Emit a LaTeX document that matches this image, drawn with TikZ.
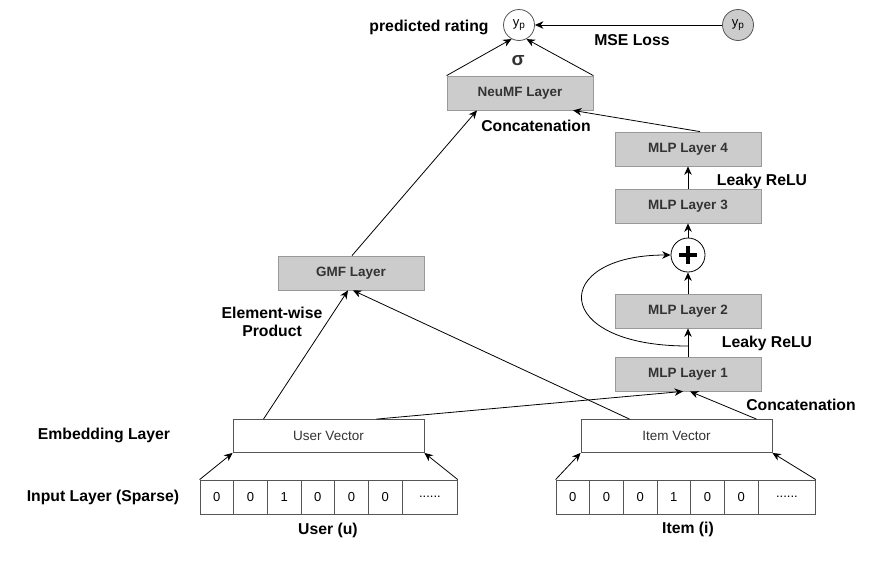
\documentclass[tikz,border=0pt]{standalone}
\usepackage{fontspec}
\setmainfont{Liberation Sans}
\usetikzlibrary{positioning,arrows.meta}
\definecolor{layerfill}{HTML}{CCCCCC}
\definecolor{layerdraw}{HTML}{999999}
\definecolor{layertext}{HTML}{333333}
\definecolor{vecdraw}{HTML}{555555}

\begin{document}
\begin{tikzpicture}[x=1pt,y=-1pt,line width=0.8pt,
  layer/.style={rectangle,fill=layerfill,draw=layerdraw,minimum width=146pt,minimum height=34pt,
    font=\fontsize{13.5}{15}\selectfont\bfseries,text=layertext},
  vec/.style={rectangle,fill=white,draw=vecdraw,minimum width=191pt,minimum height=33pt,
    font=\fontsize{13.5}{15}\selectfont,text=layertext},
  cell/.style={rectangle,draw=vecdraw,minimum width=33.67pt,minimum height=34pt,inner sep=0pt,
    font=\fontsize{13}{15}\selectfont},
  lbl/.style={font=\fontsize{15.75}{18}\selectfont\bfseries},
  rating/.style={circle,draw=vecdraw,minimum size=31pt,inner sep=0pt,font=\fontsize{13}{15}\selectfont},
  addop/.style={circle,draw,fill=white,minimum size=34pt,inner sep=0pt,
    path picture={\draw[line width=4pt] ([yshift=-9pt]path picture bounding box.center) -- ([yshift=9pt]path picture bounding box.center)
      ([xshift=-9pt]path picture bounding box.center) -- ([xshift=9pt]path picture bounding box.center);}},
  >={Stealth[length=8.5pt,width=7.5pt]}]
  \useasboundingbox (0,0) rectangle (876,560);

  % output
  \node[rating,fill=white] (yp) at (519,25) {y\raisebox{-2.5pt}{\fontsize{10}{11}\selectfont p}};
  \node[rating,fill=layerfill] (ytrue) at (738,25) {y\raisebox{-2.5pt}{\fontsize{10}{11}\selectfont p}};
  \node[lbl] (predlbl) at (429,27) {predicted rating};
  \node[lbl] (mselbl) at (632,40) {MSE Loss};
  \node[lbl,text=layertext,font=\fontsize{19}{20}\selectfont\bfseries] (sigma) at (518,61) {σ};

  % layers
  \node[layer] (neumf) at (520,93) {NeuMF Layer};
  \node[layer] (gmf) at (351,273) {GMF Layer};
  \node[layer] (mlp4) at (688,149) {MLP Layer 4};
  \node[layer] (mlp3) at (688,206) {MLP Layer 3};
  \node[addop] (plus) at (688,255) {};
  \node[layer] (mlp2) at (688,311) {MLP Layer 2};
  \node[layer] (mlp1) at (688,374) {MLP Layer 1};
  \coordinate (split) at (688,346);

  % embeddings
  \node[vec] (uvec) at (328.5,436) {User Vector};
  \node[vec] (ivec) at (676.5,436) {Item Vector};

  % sparse inputs
  \foreach \v [count=\i] in {0,0,1,0,0,0}
    \node[cell] (u\i) at ({200+33.67*(\i-0.5)},497) {\v};
  \node[cell,minimum width=55pt,anchor=west] (u7) at (402,497) {......};
  \foreach \v [count=\i] in {0,0,0,1,0,0}
    \node[cell] (i\i) at ({556+33.67*(\i-0.5)},497) {\v};
  \node[cell,minimum width=57pt,anchor=west] (i7) at (758,497) {......};

  % labels
  \node[lbl] (concatA) at (536,126) {Concatenation};
  \node[lbl] (reluA) at (762,181) {Leaky ReLU};
  \node[lbl] (reluB) at (767,343) {Leaky ReLU};
  \node[lbl] (concatB) at (801,405) {Concatenation};
  \node[lbl,align=center] (prodlbl) at (272,322) {Element-wise\\Product};
  \node[lbl] (emblbl) at (104,435) {Embedding Layer};
  \node[lbl] (inlbl) at (103,497) {Input Layer (Sparse)};
  \node[lbl] (userlbl) at (328,530) {User (u)};
  \node[lbl] (itemlbl) at (688,529) {Item (i)};

  \path[->]
    (ytrue) edge (yp)
    (neumf.north west) edge (yp.-118)
    (neumf.north east) edge (yp.-62)
    ([xshift=1pt]gmf.north) edge ([xshift=-43pt]neumf.south)
    ([xshift=12pt]mlp4.north) edge ([xshift=53pt]neumf.south)
    (mlp3) edge (mlp4)
    (plus) edge (mlp3)
    (mlp2) edge (plus)
    (mlp1) edge (mlp2)
    ([xshift=-65pt]uvec.north) edge ([xshift=-3pt]gmf.south)
    ([xshift=-47pt]ivec.north) edge ([xshift=2pt]gmf.south)
    ([xshift=48pt]uvec.north) edge ([xshift=-5pt]mlp1.south)
    ([xshift=80pt]ivec.north) edge ([xshift=2pt]mlp1.south)
    (u1.north west) edge (uvec.south west)
    (u7.north east) edge (uvec.south east)
    (i1.north west) edge (ivec.south west)
    (i7.north east) edge (ivec.south east);
  \draw[->] (split) .. controls (550,346) and (550,255) .. (plus.west);
\end{tikzpicture}
\end{document}
